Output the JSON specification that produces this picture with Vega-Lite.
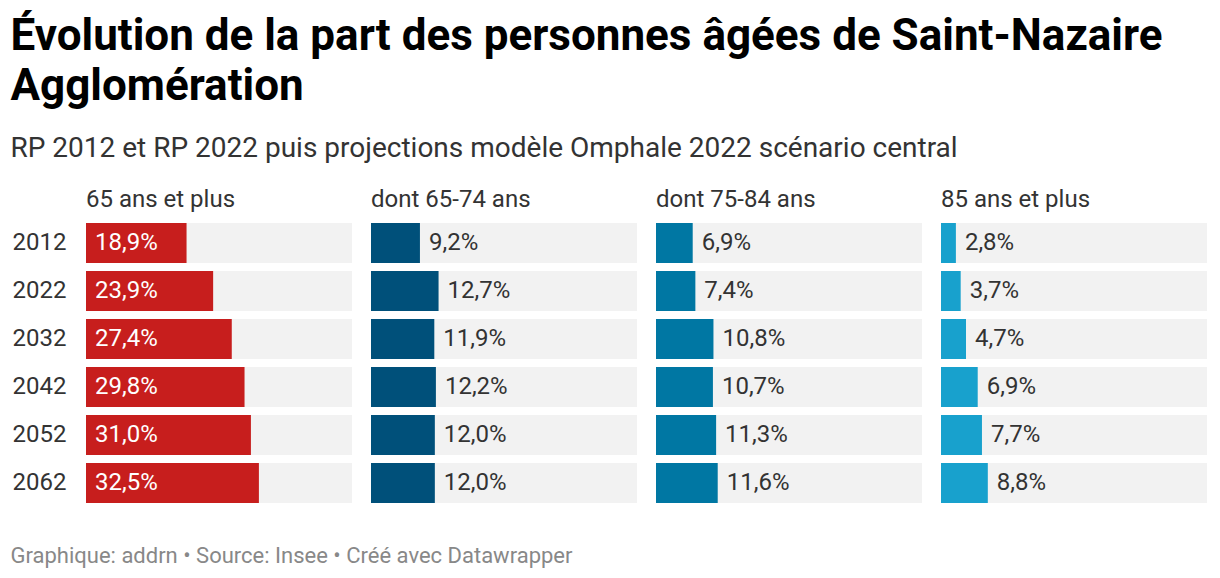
{
  "$schema": "https://vega.github.io/schema/vega-lite/v6.json",
  "padding": {"left": 10, "top": 15, "right": 5, "bottom": 5},
  "background": "white",
  "config": {
    "locale": {"number": {"decimal": ",", "thousands": " ", "grouping": [3], "currency": ["", " €"]}},
    "font": "Roboto",
    "view": {"stroke": null},
    "concat": {"spacing": 38}
  },
  "title": {
    "text": ["Évolution de la part des personnes âgées de Saint-Nazaire", "Agglomération"],
    "subtitle": "RP 2012 et RP 2022 puis projections modèle Omphale 2022 scénario central",
    "anchor": "start",
    "frame": "bounds",
    "font": "Roboto",
    "fontSize": 44,
    "fontWeight": "bold",
    "lineHeight": 50,
    "color": "#000000",
    "subtitleFont": "Roboto",
    "subtitleFontSize": 28,
    "subtitleColor": "#333333",
    "subtitlePadding": 26,
    "offset": 25
  },
  "vconcat": [
    {
      "data": {"values": [
        {"group": "65 ans et plus", "year": "2012", "value": 0.189},
        {"group": "65 ans et plus", "year": "2022", "value": 0.239},
        {"group": "65 ans et plus", "year": "2032", "value": 0.274},
        {"group": "65 ans et plus", "year": "2042", "value": 0.298},
        {"group": "65 ans et plus", "year": "2052", "value": 0.310},
        {"group": "65 ans et plus", "year": "2062", "value": 0.325},
        {"group": "dont 65-74 ans", "year": "2012", "value": 0.092},
        {"group": "dont 65-74 ans", "year": "2022", "value": 0.127},
        {"group": "dont 65-74 ans", "year": "2032", "value": 0.119},
        {"group": "dont 65-74 ans", "year": "2042", "value": 0.122},
        {"group": "dont 65-74 ans", "year": "2052", "value": 0.120},
        {"group": "dont 65-74 ans", "year": "2062", "value": 0.120},
        {"group": "dont 75-84 ans", "year": "2012", "value": 0.069},
        {"group": "dont 75-84 ans", "year": "2022", "value": 0.074},
        {"group": "dont 75-84 ans", "year": "2032", "value": 0.108},
        {"group": "dont 75-84 ans", "year": "2042", "value": 0.107},
        {"group": "dont 75-84 ans", "year": "2052", "value": 0.113},
        {"group": "dont 75-84 ans", "year": "2062", "value": 0.116},
        {"group": "85 ans et plus", "year": "2012", "value": 0.028},
        {"group": "85 ans et plus", "year": "2022", "value": 0.037},
        {"group": "85 ans et plus", "year": "2032", "value": 0.047},
        {"group": "85 ans et plus", "year": "2042", "value": 0.069},
        {"group": "85 ans et plus", "year": "2052", "value": 0.077},
        {"group": "85 ans et plus", "year": "2062", "value": 0.088}
      ]},
      "facet": {
        "column": {
          "field": "group",
          "type": "nominal",
          "sort": ["65 ans et plus", "dont 65-74 ans", "dont 75-84 ans", "85 ans et plus"],
          "header": {
            "title": null,
            "labelAnchor": "start",
            "labelAlign": "left",
            "labelFont": "Roboto",
            "labelFontSize": 24,
            "labelColor": "#333333",
            "labelPadding": 7
          }
        }
      },
      "spacing": 19,
      "spec": {
        "width": 266,
        "height": {"step": 48},
        "encoding": {
          "y": {
            "field": "year",
            "type": "ordinal",
            "scale": {"paddingInner": 0.1667, "paddingOuter": 0.0833},
            "axis": {
              "title": null,
              "domain": false,
              "ticks": false,
              "labelAlign": "left",
              "labelPadding": 74,
              "labelFont": "Roboto",
              "labelFontSize": 24,
              "labelColor": "#333333"
            }
          }
        },
        "layer": [
          {
            "mark": {"type": "bar", "color": "#f2f2f2"},
            "encoding": {
              "x": {"datum": 0.5, "type": "quantitative", "scale": {"domain": [0, 0.5]}, "axis": null}
            }
          },
          {
            "mark": {"type": "bar"},
            "encoding": {
              "x": {"field": "value", "type": "quantitative", "axis": null},
              "color": {
                "field": "group",
                "type": "nominal",
                "scale": {
                  "domain": ["65 ans et plus", "dont 65-74 ans", "dont 75-84 ans", "85 ans et plus"],
                  "range": ["#c71e1d", "#00507a", "#0077a3", "#18a1cd"]
                },
                "legend": null
              }
            }
          },
          {
            "transform": [{"filter": "datum.group === '65 ans et plus'"}],
            "mark": {"type": "text", "align": "left", "baseline": "middle", "dx": 9, "color": "#ffffff", "fontSize": 24, "font": "Roboto"},
            "encoding": {
              "x": {"datum": 0, "type": "quantitative", "axis": null},
              "text": {"field": "value", "type": "quantitative", "format": ".1%"}
            }
          },
          {
            "transform": [{"filter": "datum.group !== '65 ans et plus'"}],
            "mark": {"type": "text", "align": "left", "baseline": "middle", "dx": 9, "color": "#333333", "fontSize": 24, "font": "Roboto"},
            "encoding": {
              "x": {"field": "value", "type": "quantitative", "axis": null},
              "text": {"field": "value", "type": "quantitative", "format": ".1%"}
            }
          }
        ]
      }
    },
    {
      "data": {"values": [{"note": "Graphique: addrn • Source: Insee • Créé avec Datawrapper"}]},
      "width": 1,
      "height": 20,
      "mark": {"type": "text", "align": "left", "baseline": "alphabetic", "dx": -76, "fontSize": 22, "font": "Roboto", "color": "#888888"},
      "encoding": {"text": {"field": "note", "type": "nominal"}}
    }
  ]
}
